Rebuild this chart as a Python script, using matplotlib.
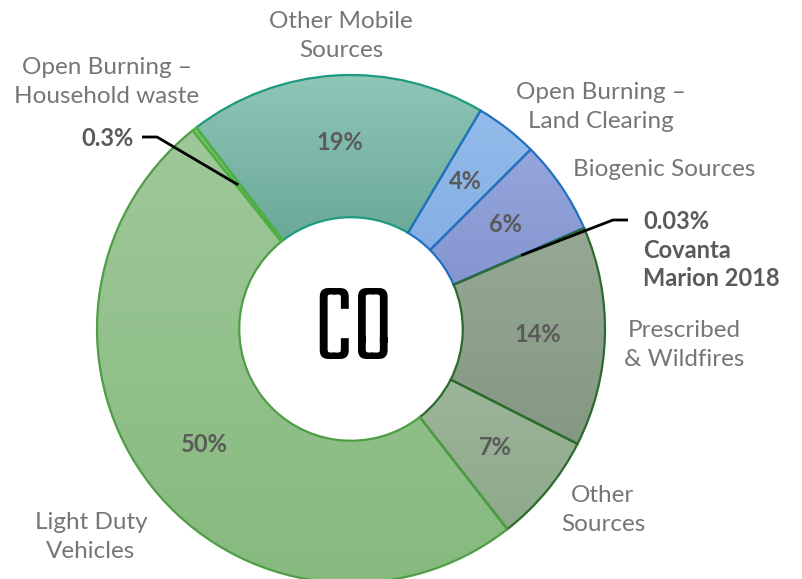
import numpy as np
import matplotlib.pyplot as plt
from matplotlib.colors import to_rgb

# CO emissions by source (percent)
sources = ["Other Mobile Sources", "Open Burning - Land Clearing", "Biogenic Sources",
           "Covanta Marion 2018", "Prescribed & Wildfires", "Other Sources",
           "Light Duty Vehicles", "Open Burning - Household waste"]
values = [19, 4, 6, 0.03, 14, 7, 50, 0.3]
pct_labels = ["19%", "4%", "6%", "", "14%", "7%", "50%", ""]

top_colors = ["#8fc6b8", "#93bcec", "#94a6dc", "#5a8fd0", "#97a895", "#9db59a", "#9fc899", "#7cc46e"]
bot_colors = ["#6aa897", "#86aee3", "#8595d0", "#5a8fd0", "#849882", "#8ea98a", "#86ba7e", "#6cb860"]
edge_colors = ["#1d9a80", "#2370c0", "#2370c0", "#2370c0", "#2d6b2d", "#2d6b2d", "#4f9e45", "#4fb040"]

W, H = 802, 579
label_gray = "#767676"
pct_gray = "#5a5a5a"
font = ["Lato", "DejaVu Sans"]


def P(x, y):
    # pixel position (from top-left) -> data coords
    return x, H - y


fig = plt.figure(figsize=(8.02, 5.79), dpi=100)
ax = fig.add_axes([0, 0, 1, 1])

cx, cy = P(351, 329)
R = 254
wedges, _ = ax.pie(values, startangle=127.5, counterclock=False, radius=R, center=(cx, cy),
                   wedgeprops=dict(width=R * 0.56, linewidth=1.6), colors=top_colors)

# vertical gradient fill inside each wedge
grad = np.linspace(0, 1, 256)[:, None, None]
for w, ct, cb, ec in zip(wedges, top_colors, bot_colors, edge_colors):
    w.set_edgecolor(ec)
    w.set_facecolor("none")
    w.set_zorder(3)
    x0, y0, x1, y1 = w.get_path().get_extents().extents
    img = (1 - grad) * np.array(to_rgb(ct)) + grad * np.array(to_rgb(cb))
    im = ax.imshow(img, extent=(x0, x1, y0, y1), origin="upper", aspect="auto", zorder=2,
                   interpolation="bilinear")
    im.set_clip_path(w)


def mid_point(w, frac):
    a = np.deg2rad((w.theta1 + w.theta2) / 2)
    return cx + frac * R * np.cos(a), cy + frac * R * np.sin(a)


for w, t in zip(wedges, pct_labels):
    if t:
        x, y = mid_point(w, 0.735)
        ax.text(x, y, t, ha="center", va="center", fontsize=17, fontweight="bold",
                color=pct_gray, family=font, zorder=5)

# category labels
lab_kw = dict(ha="center", va="center", fontsize=17.5, color=label_gray, family=font,
              linespacing=1.45)
ax.text(*P(341, 36), "Other Mobile\nSources", **lab_kw)
ax.text(*P(107, 82), "Open Burning \u2013\nHousehold waste", **lab_kw)
ax.text(*P(601, 107), "Open Burning \u2013\nLand Clearing", **lab_kw)
ax.text(*P(664, 170), "Biogenic Sources", **lab_kw)
ax.text(*P(684, 345), "Prescribed\n& Wildfires", **lab_kw)
ax.text(*P(603, 510), "Other\nSources", **lab_kw)
ax.text(*P(91, 537), "Light Duty\nVehicles", **lab_kw)

# small slices with leader lines
ax.text(*P(134, 139), "0.3%", ha="right", va="center", fontsize=17, fontweight="bold",
        color=pct_gray, family=font)
ex, ey = mid_point(wedges[7], 0.72)
ax.plot([P(142, 0)[0], P(157, 0)[0], ex], [P(0, 137)[1], P(0, 137)[1], ey],
        color="black", lw=2, zorder=6, solid_capstyle="butt")

ax.text(*P(643, 250), "0.03%\nCovanta\nMarion 2018", ha="left", va="center", fontsize=17,
        fontweight="bold", color=pct_gray, family=font, linespacing=1.3)
ex, ey = mid_point(wedges[3], 0.73)
ax.plot([P(628, 0)[0], P(613, 0)[0], ex], [P(0, 220)[1], P(0, 220)[1], ey],
        color="black", lw=2, zorder=6, solid_capstyle="butt")

# centre label
ax.text(cx + 2, cy, "CO", ha="center", va="center", fontsize=82, fontweight="bold",
        color="black", family=["Teko", "DejaVu Sans"], zorder=5)

ax.set_xlim(0, W)
ax.set_ylim(0, H)
ax.set_aspect("equal")
ax.axis("off")

fig.savefig("out.png", dpi=100, facecolor="white")
